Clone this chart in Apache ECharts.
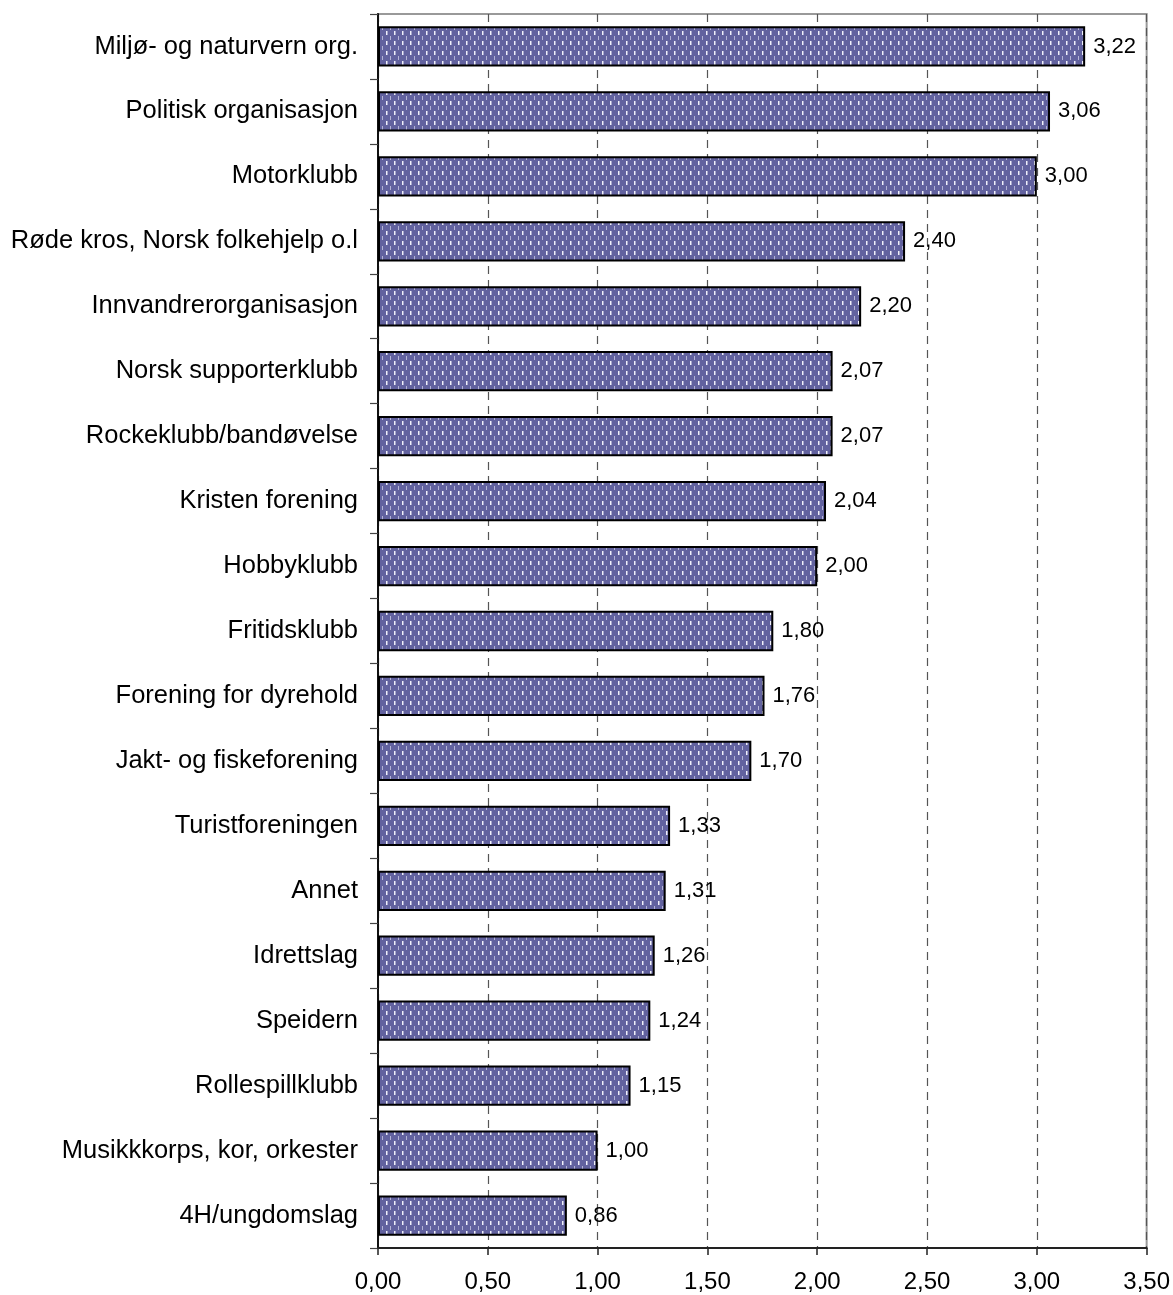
<!DOCTYPE html>
<html><head><meta charset="utf-8">
<script src="https://cdn.jsdelivr.net/npm/echarts@6/dist/echarts.min.js"></script>
<style>html,body{margin:0;padding:0;background:#fff}#c{width:1173px;height:1295px}</style>
</head><body><div id="c"></div>
<script>
const categories = ["Miljø- og naturvern org.","Politisk organisasjon","Motorklubb","Røde kros, Norsk folkehjelp o.l","Innvandrerorganisasjon","Norsk supporterklubb","Rockeklubb/bandøvelse","Kristen forening","Hobbyklubb","Fritidsklubb","Forening for dyrehold","Jakt- og fiskeforening","Turistforeningen","Annet","Idrettslag","Speidern","Rollespillklubb","Musikkkorps, kor, orkester","4H/ungdomslag"];
const values = [3.22,3.06,3.00,2.40,2.20,2.07,2.07,2.04,2.00,1.80,1.76,1.70,1.33,1.31,1.26,1.24,1.15,1.00,0.86];
const xTicks = [0,0.5,1,1.5,2,2.5,3,3.5];

const tile = document.createElement('canvas');
tile.width = 8; tile.height = 10;
const g = tile.getContext('2d');
g.fillStyle = '#62629f'; g.fillRect(0,0,8,10);
g.fillStyle = '#f0f0fa'; g.fillRect(2,1,1,4);
g.fillStyle = '#a8a8cc'; g.fillRect(3,1,1,4);
g.fillStyle = '#b4b4d6'; g.fillRect(6,6,1,4);

const fmt = v => v.toFixed(2).replace('.', ',');
const chart = echarts.init(document.getElementById('c'));
chart.setOption({
  animation:false,
  textStyle:{fontFamily:'Liberation Sans, Arial, sans-serif'},
  grid:{left:378,right:26,top:14,bottom:47,show:true,borderColor:'#999',borderWidth:2,backgroundColor:'transparent'},
  xAxis:{type:'value',min:0,max:3.5,interval:0.5,
    axisLine:{show:true,onZero:false,lineStyle:{color:'#222',width:2}},
    axisTick:{show:true,length:7,lineStyle:{color:'#222',width:1.5}},
    axisLabel:{formatter:v=>fmt(v),fontSize:24,color:'#000',margin:22,fontFamily:'Liberation Sans'},
    splitLine:{show:true,lineStyle:{color:'#555',type:[8,6],width:1.2}}
  },
  yAxis:{type:'category',data:categories,inverse:true,
    axisLine:{show:true,lineStyle:{color:'#111',width:2}},
    axisTick:{show:true,length:8,lineStyle:{color:'#444',width:1.2}},
    axisLabel:{fontSize:25.5,color:'#000',margin:20,fontFamily:'Liberation Sans'},
    splitLine:{show:false}
  },
  series:[{type:'bar',data:values,barCategoryGap:'38%',
    itemStyle:{color:{image:tile,repeat:'repeat'},borderColor:'#000',borderWidth:2},
    label:{show:true,position:'right',distance:8,formatter:p=>fmt(p.value),fontSize:22,color:'#000',fontFamily:'Liberation Sans'}
  }]
});
</script></body></html>
